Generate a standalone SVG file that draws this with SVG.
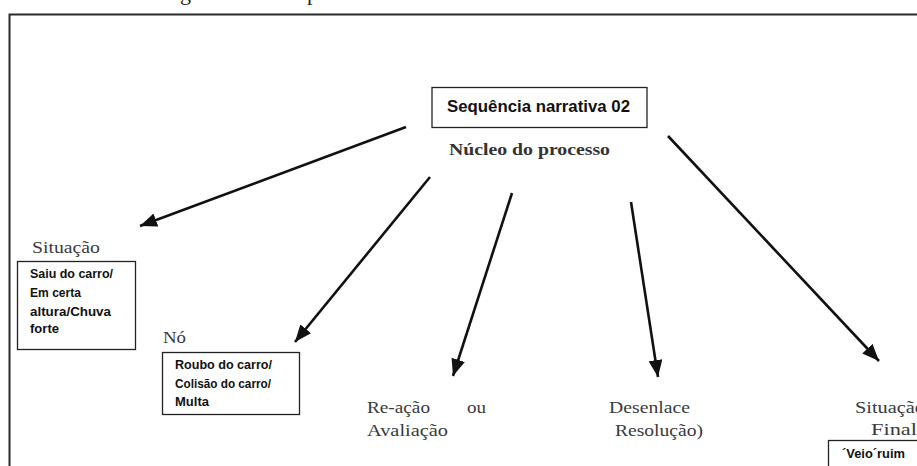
<svg xmlns="http://www.w3.org/2000/svg" width="917" height="466" viewBox="0 0 917 466">
<defs>
<style>
.frame{fill:none;stroke:#2a2a2a;stroke-width:2}
.box{fill:#fff;stroke:#222;stroke-width:1.3}
.bx{font-family:"Liberation Sans",Arial,sans-serif;font-weight:bold;font-size:12px;fill:#111}
.title{font-family:"Liberation Sans",Arial,sans-serif;font-weight:bold;font-size:16px;fill:#111}
.lbl{font-family:"Liberation Serif","Times New Roman",serif;font-size:16.5px;fill:#3a3a3a}
.core{font-family:"Liberation Serif","Times New Roman",serif;font-weight:bold;font-size:17px;fill:#333}
.cut{font-family:"Liberation Serif","Times New Roman",serif;font-size:22px;fill:#222}
.arr{stroke:#111;stroke-width:2.6;fill:none;marker-end:url(#ah)}
</style>
<marker id="ah" markerUnits="userSpaceOnUse" markerWidth="18" markerHeight="14" refX="17" refY="7" orient="auto">
<path d="M0,0 L17,7 L0,14 z" fill="#111"/>
</marker>
</defs>
<rect width="917" height="466" fill="#fff"/>
<text class="cut" x="180" y="0">g</text>
<text class="cut" x="307" y="0">p</text>
<path class="frame" d="M9.5,480 L9.5,14.5 L930,14.5"/>

<g id="connectors">
<line class="arr" x1="406" y1="127" x2="140" y2="226"/>
<line class="arr" x1="430" y1="177" x2="295" y2="342"/>
<line class="arr" x1="512" y1="193" x2="453" y2="376"/>
<line class="arr" x1="631" y1="202" x2="658" y2="377"/>
<line class="arr" x1="668" y1="136" x2="879" y2="361"/>
</g>

<g id="root">
<rect class="box" x="432" y="87.5" width="215" height="40"/>
<text class="title" x="447" y="112" textLength="183" lengthAdjust="spacingAndGlyphs">Sequência narrativa 02</text>
<text class="core" x="449" y="155" textLength="161" lengthAdjust="spacingAndGlyphs">Núcleo do processo</text>
</g>

<g id="situacao">
<text class="lbl" x="32" y="253" textLength="68" lengthAdjust="spacingAndGlyphs">Situação</text>
<rect class="box" x="17.5" y="261.5" width="118" height="88"/>
<text class="bx" x="30" y="278" textLength="83" lengthAdjust="spacingAndGlyphs">Saiu do carro/</text>
<text class="bx" x="30" y="297" textLength="51" lengthAdjust="spacingAndGlyphs">Em certa</text>
<text class="bx" x="30" y="316" textLength="81" lengthAdjust="spacingAndGlyphs">altura/Chuva</text>
<text class="bx" x="30" y="333" textLength="29" lengthAdjust="spacingAndGlyphs">forte</text>
</g>

<g id="no">
<text class="lbl" x="163" y="343" textLength="23" lengthAdjust="spacingAndGlyphs">Nó</text>
<rect class="box" x="162.5" y="352.5" width="137" height="62"/>
<text class="bx" x="175" y="369" textLength="97" lengthAdjust="spacingAndGlyphs">Roubo do carro/</text>
<text class="bx" x="175" y="388" textLength="96" lengthAdjust="spacingAndGlyphs">Colisão do carro/</text>
<text class="bx" x="175" y="406" textLength="34" lengthAdjust="spacingAndGlyphs">Multa</text>
</g>

<g id="reacao">
<text class="lbl" x="367" y="413" textLength="63" lengthAdjust="spacingAndGlyphs">Re-ação</text>
<text class="lbl" x="467" y="413" textLength="19" lengthAdjust="spacingAndGlyphs">ou</text>
<text class="lbl" x="367" y="436" textLength="81" lengthAdjust="spacingAndGlyphs">Avaliação</text>
</g>

<g id="desenlace">
<text class="lbl" x="609" y="413" textLength="81" lengthAdjust="spacingAndGlyphs">Desenlace</text>
<text class="lbl" x="615" y="436" textLength="88" lengthAdjust="spacingAndGlyphs">Resolução)</text>
</g>

<g id="situacao-final">
<text class="lbl" x="855" y="413" textLength="70" lengthAdjust="spacingAndGlyphs">Situação</text>
<text class="lbl" x="871" y="435" textLength="46" lengthAdjust="spacingAndGlyphs">Final</text>
<rect class="box" x="828.5" y="440.5" width="100" height="40"/>
<text class="bx" x="842" y="458" textLength="63" lengthAdjust="spacingAndGlyphs">´Veio´ruim</text>
</g>
</svg>
